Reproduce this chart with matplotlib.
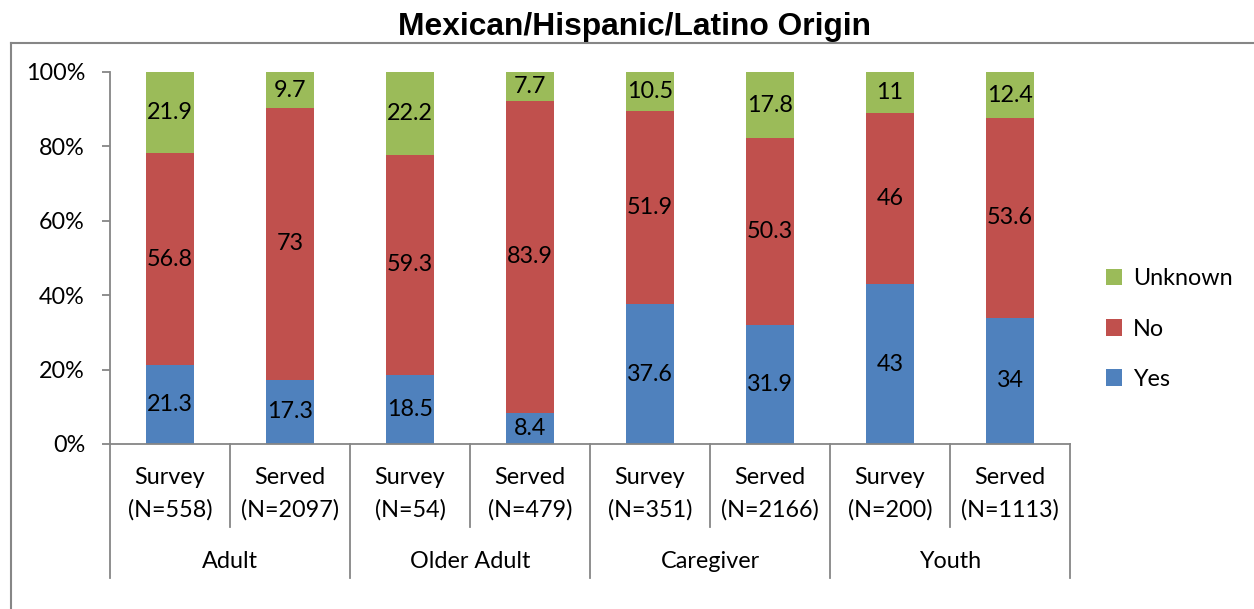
import numpy as np
import matplotlib.pyplot as plt
from matplotlib.lines import Line2D
import matplotlib.transforms as mtransforms

plt.rcParams['font.family'] = ['Lato', 'DejaVu Sans']

# data
groups = ['Adult', 'Older Adult', 'Caregiver', 'Youth']
subcats = ['Survey\n(N=558)', 'Served\n(N=2097)', 'Survey\n(N=54)', 'Served\n(N=479)',
           'Survey\n(N=351)', 'Served\n(N=2166)', 'Survey\n(N=200)', 'Served\n(N=1113)']
yes = [21.3, 17.3, 18.5, 8.4, 37.6, 31.9, 43, 34]
no = [56.8, 73, 59.3, 83.9, 51.9, 50.3, 46, 53.6]
unknown = [21.9, 9.7, 22.2, 7.7, 10.5, 17.8, 11, 12.4]

c_yes = '#4F81BD'
c_no = '#C0504D'
c_unk = '#9BBB59'
grey = '#868686'
fs = 16.8

W, H = 1254, 609
fig = plt.figure(figsize=(W/100, H/100), dpi=100)
ax = fig.add_axes([110/W, 1-444/H, 960/W, 372/H])

x = np.arange(len(subcats))
yes = np.array(yes); no = np.array(no); unknown = np.array(unknown)
b1 = ax.bar(x, yes, 0.4, color=c_yes, label='Yes')
b2 = ax.bar(x, no, 0.4, bottom=yes, color=c_no, label='No')
b3 = ax.bar(x, unknown, 0.4, bottom=yes+no, color=c_unk, label='Unknown')

for vals, bots in [(yes, np.zeros(8)), (no, yes), (unknown, yes+no)]:
    for i in range(len(vals)):
        ax.text(x[i], bots[i] + vals[i]/2, '%g' % vals[i], ha='center', va='center', fontsize=fs)

ax.set_xlim(-0.5, 7.5)
ax.set_ylim(0, 100)
ax.set_yticks(np.arange(0, 101, 20))
ax.set_yticklabels(['%d%%' % v for v in range(0, 101, 20)], fontsize=fs)
ax.tick_params(axis='y', length=6, width=1.3, color=grey, pad=12)
ax.set_xticks([])
for s in ['top', 'right']:
    ax.spines[s].set_visible(False)
for s in ['left', 'bottom']:
    ax.spines[s].set_color(grey)
    ax.spines[s].set_linewidth(1.3)

# multi-level category axis
trans = mtransforms.blended_transform_factory(ax.transData, ax.transAxes)
for i, lab in enumerate(subcats):
    l1, l2 = lab.split('\n')
    ax.text(i, -34/372, l1, transform=trans, ha='center', va='center', fontsize=fs)
    ax.text(i, -66/372, l2, transform=trans, ha='center', va='center', fontsize=fs)
for k in range(4):
    ax.text(2*k + 0.5, -117/372, groups[k], transform=trans, ha='center', va='center', fontsize=fs)
    ax.plot([2*k + 0.5, 2*k + 0.5], [0, -83/372], transform=trans, color=grey, lw=1.3, clip_on=False)
for k in range(5):
    ax.plot([2*k - 0.5, 2*k - 0.5], [0, -134/372], transform=trans, color=grey, lw=1.3, clip_on=False)

h, l = ax.get_legend_handles_labels()
fig.legend(h[::-1], l[::-1], loc='center left', bbox_to_anchor=(1106/W, 1-329/H),
           frameon=False, fontsize=fs, handlelength=0.7, handleheight=0.7,
           handletextpad=0.45, labelspacing=1.25, borderpad=0, borderaxespad=0)

fig.text(635/W, 1-27/H, 'Mexican/Hispanic/Latino Origin', ha='center', va='center',
         fontsize=22.9, fontweight='bold', family='Liberation Sans')

# chart area border
fig.add_artist(Line2D([11/W, 11/W], [0, 1-43/H], color=grey, lw=1.5))
fig.add_artist(Line2D([11/W, 1], [1-43/H, 1-43/H], color=grey, lw=1.5))

fig.savefig('out.png', dpi=100)
